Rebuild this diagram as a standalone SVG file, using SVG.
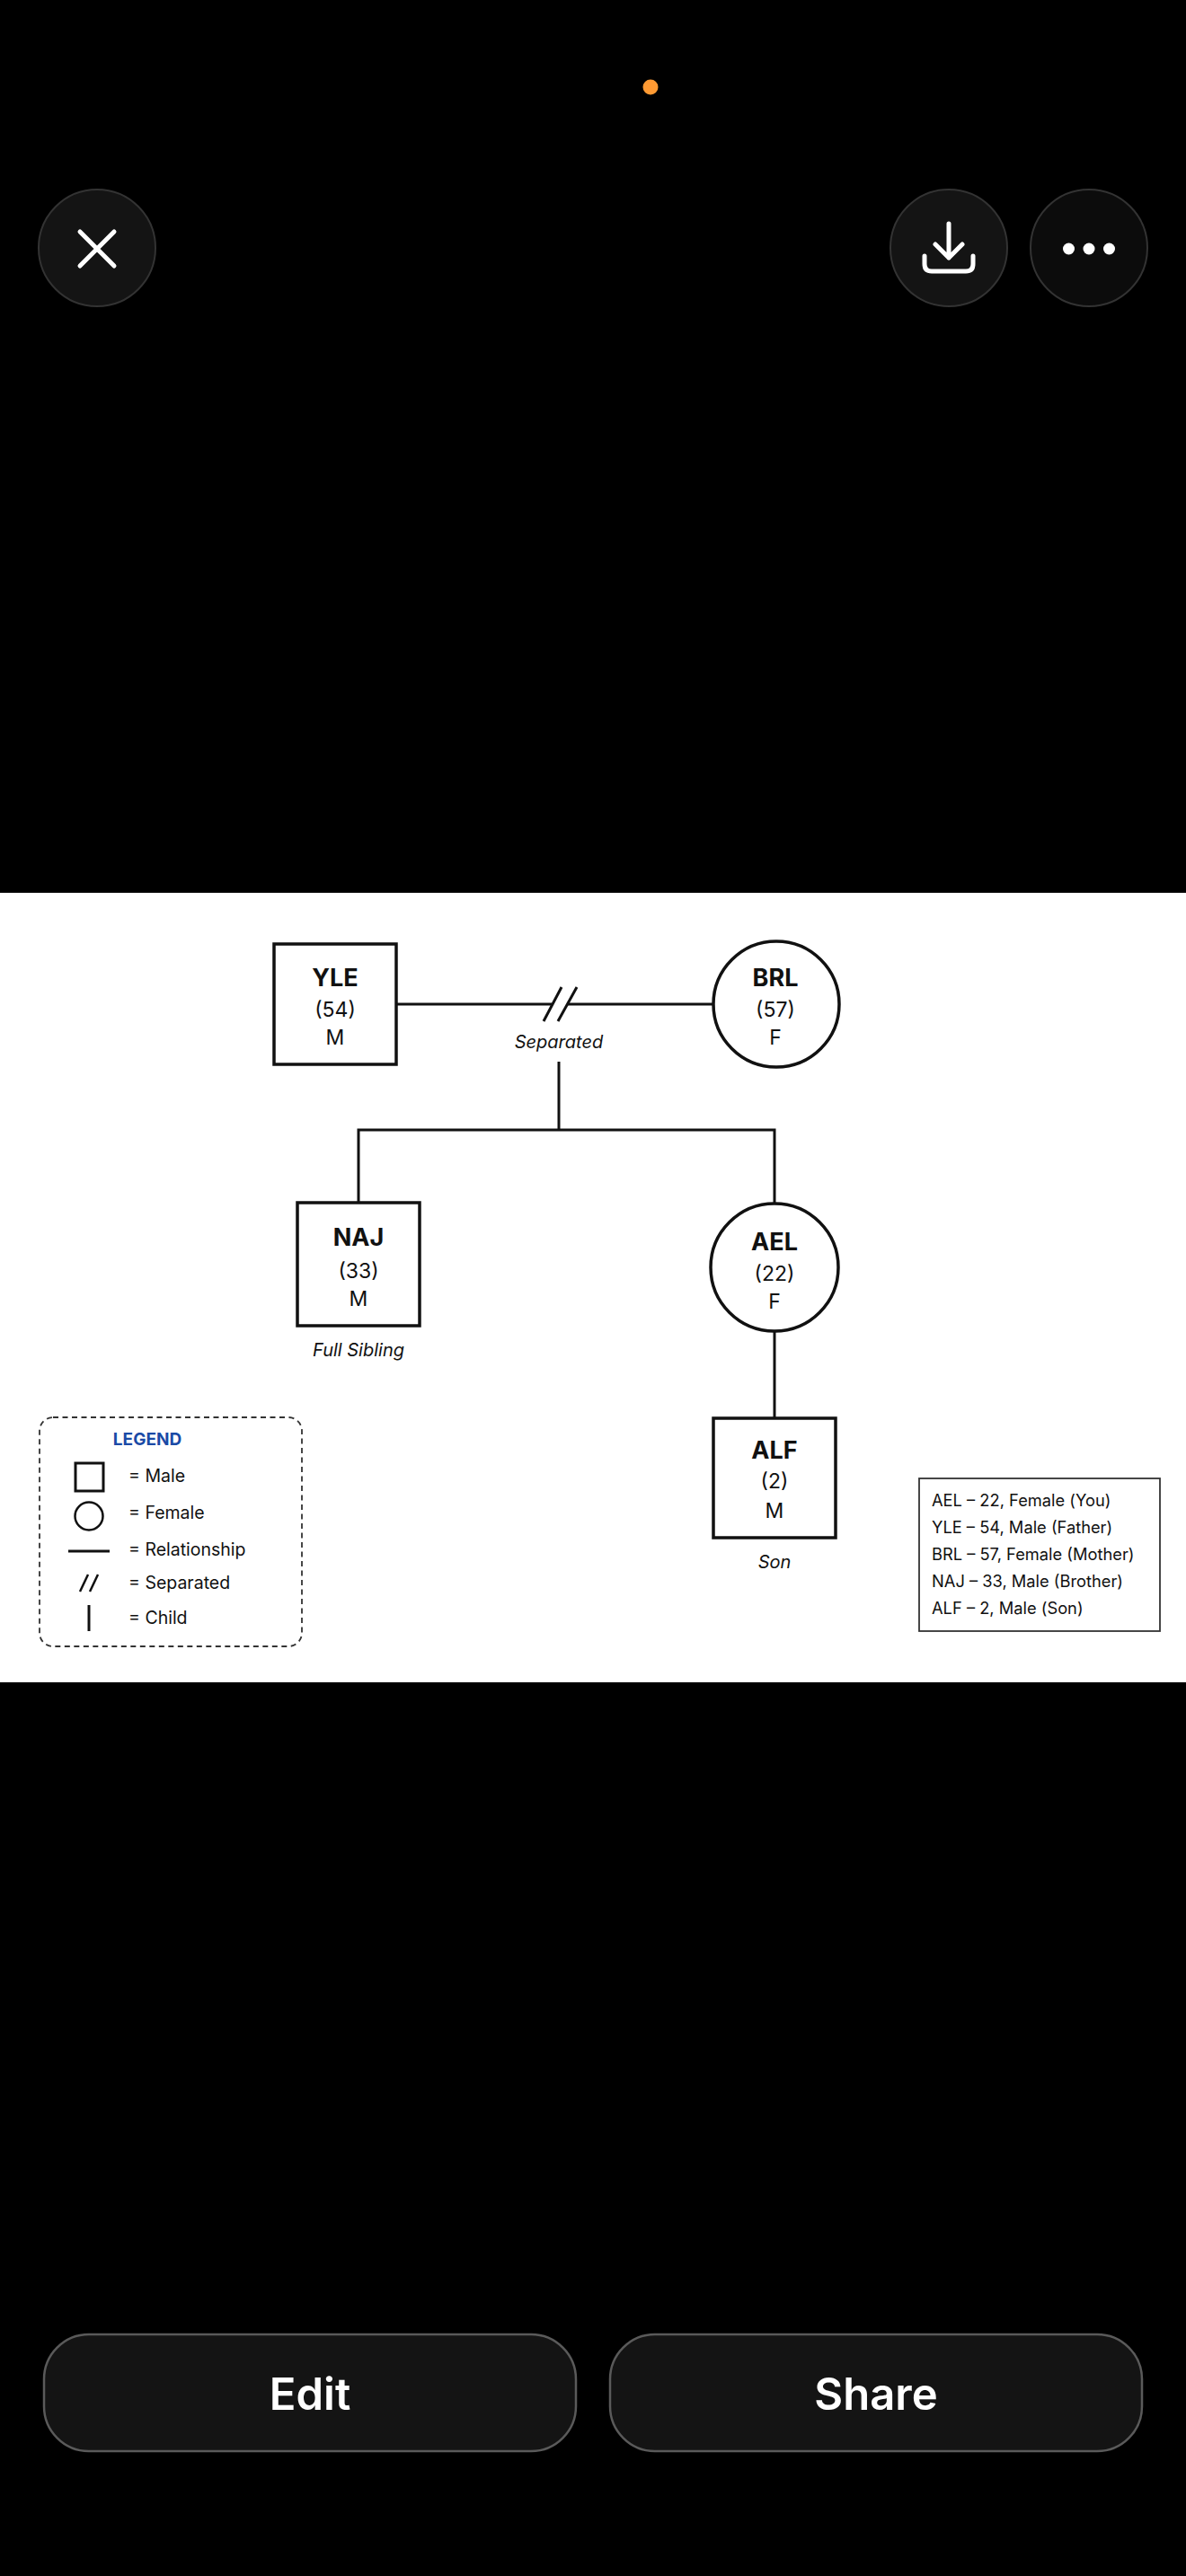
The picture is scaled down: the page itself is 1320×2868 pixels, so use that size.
<svg xmlns="http://www.w3.org/2000/svg" width="1320" height="2868" viewBox="0 0 1320 2868">
<style>
.ui-circle{fill:#141414;stroke:#333;stroke-width:2}
.ui-icon{fill:none;stroke:#fff;stroke-width:5;stroke-linecap:round;stroke-linejoin:round}
.btn{fill:#141414;stroke:#5a5a5a;stroke-width:2.5}
.btn-text{font-family:Inter,"Liberation Sans",sans-serif;font-size:49px;font-weight:600;fill:#fff;text-anchor:middle}
.shape{fill:#fff;stroke:#111;stroke-width:3.5}
.line{fill:none;stroke:#111;stroke-width:3}
.name{font-family:Inter,"Liberation Sans",sans-serif;font-size:27px;font-weight:700;fill:#111;text-anchor:middle}
.sub{font-family:Inter,"Liberation Sans",sans-serif;font-size:23px;fill:#111;text-anchor:middle}
.note{font-family:Inter,"Liberation Sans",sans-serif;font-size:20px;font-style:italic;fill:#111;text-anchor:middle}
.leg{font-family:Inter,"Liberation Sans",sans-serif;font-size:19.5px;fill:#111}
.info{font-family:Inter,"Liberation Sans",sans-serif;font-size:18.3px;fill:#111}
</style>
<rect x="0" y="0" width="1320" height="2868" fill="#000"/>
<circle cx="724" cy="97" r="8.5" fill="#FF9A33"/>
<g id="btn-close">
<circle class="ui-circle" cx="108" cy="276" r="65"/>
<path class="ui-icon" d="M89 258 L127 296 M127 258 L89 296"/>
</g>
<g id="btn-download">
<circle class="ui-circle" cx="1056" cy="276" r="65"/>
<path class="ui-icon" d="M1056 249 L1056 287 M1041 272 L1056 287 L1071 272 M1029 285 L1029 294 Q1029 302 1037 302 L1075 302 Q1083 302 1083 294 L1083 285"/>
</g>
<g id="btn-more">
<circle class="ui-circle" cx="1212" cy="276" r="65" style="fill:#0c0c0c"/>
<circle cx="1189.5" cy="277" r="6.5" fill="#fff"/>
<circle cx="1212" cy="277" r="6.5" fill="#fff"/>
<circle cx="1234.5" cy="277" r="6.5" fill="#fff"/>
</g>
<rect x="0" y="994" width="1320" height="879" fill="#fff"/>
<g id="connectors">
<path class="line" d="M441 1118 L614 1118 M632 1118 L793 1118"/>
<path class="line" d="M605 1137 L625 1099 M621 1137 L642 1099"/>
<path class="line" d="M622 1182 L622 1258 M399 1339 L399 1258 L862 1258 L862 1341"/>
<path class="line" d="M862 1482 L862 1580"/>
</g>
<g id="node-YLE">
<rect class="shape" x="305" y="1051" width="136" height="134"/>
<text class="name" x="373" y="1098">YLE</text>
<text class="sub" x="373" y="1132">(54)</text>
<text class="sub" x="373" y="1163">M</text>
</g>
<g id="label-separated"><text class="note" x="622" y="1167">Separated</text></g>
<g id="node-BRL">
<circle class="shape" cx="864" cy="1118" r="70"/>
<text class="name" x="863" y="1098">BRL</text>
<text class="sub" x="863" y="1132">(57)</text>
<text class="sub" x="863" y="1163">F</text>
</g>
<g id="node-NAJ">
<rect class="shape" x="331" y="1339" width="136" height="137"/>
<text class="name" x="399" y="1387">NAJ</text>
<text class="sub" x="399" y="1423">(33)</text>
<text class="sub" x="399" y="1454">M</text>
<text class="note" x="399" y="1510">Full Sibling</text>
</g>
<g id="node-AEL">
<circle class="shape" cx="862" cy="1411" r="71"/>
<text class="name" x="862" y="1392">AEL</text>
<text class="sub" x="862" y="1426">(22)</text>
<text class="sub" x="862" y="1457">F</text>
</g>
<g id="node-ALF">
<rect class="shape" x="794" y="1579" width="136" height="133"/>
<text class="name" x="862" y="1624">ALF</text>
<text class="sub" x="862" y="1657">(2)</text>
<text class="sub" x="862" y="1690">M</text>
<text class="note" x="862" y="1746">Son</text>
</g>
<g id="legend">
<rect x="44" y="1578" width="292" height="255" rx="15" fill="none" stroke="#333" stroke-width="1.8" stroke-dasharray="6 4.5"/>
<text x="164" y="1609" font-family="Inter,'Liberation Sans',sans-serif" font-size="19" font-weight="700" fill="#1A4AA6" text-anchor="middle">LEGEND</text>
<rect x="84" y="1629" width="31" height="31" fill="none" stroke="#111" stroke-width="3"/>
<text class="leg" x="143" y="1650">= Male</text>
<circle cx="99" cy="1688" r="15.5" fill="none" stroke="#111" stroke-width="2.5"/>
<text class="leg" x="143" y="1691">= Female</text>
<line x1="76" y1="1727" x2="122" y2="1727" stroke="#111" stroke-width="3"/>
<text class="leg" x="143" y="1732">= Relationship</text>
<path d="M89 1772 L98 1753 M100 1772 L109 1753" stroke="#111" stroke-width="2.5" fill="none"/>
<text class="leg" x="143" y="1769">= Separated</text>
<line x1="99" y1="1787" x2="99" y2="1816" stroke="#111" stroke-width="3"/>
<text class="leg" x="143" y="1808">= Child</text>
</g>
<g id="info-box">
<rect x="1023" y="1646" width="268" height="170" fill="#fff" stroke="#333" stroke-width="1.8"/>
<text class="info" x="1037" y="1677">AEL – 22, Female (You)</text>
<text class="info" x="1037" y="1707">YLE – 54, Male (Father)</text>
<text class="info" x="1037" y="1737">BRL – 57, Female (Mother)</text>
<text class="info" x="1037" y="1767">NAJ – 33, Male (Brother)</text>
<text class="info" x="1037" y="1797">ALF – 2, Male (Son)</text>
</g>
<g id="btn-edit">
<rect class="btn" x="49" y="2599" width="592" height="130" rx="50"/>
<text class="btn-text" x="345" y="2683">Edit</text>
</g>
<g id="btn-share">
<rect class="btn" x="679" y="2599" width="592" height="130" rx="50"/>
<text class="btn-text" x="975" y="2683">Share</text>
</g>
</svg>
